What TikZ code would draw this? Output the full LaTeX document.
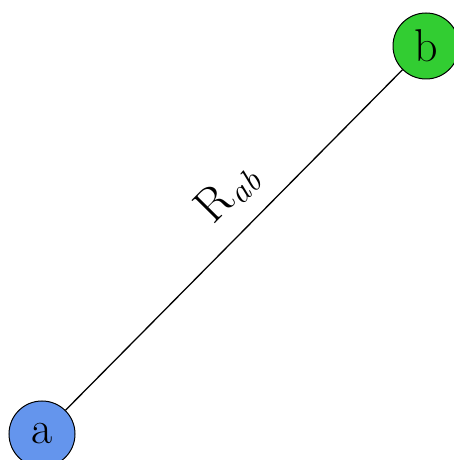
\documentclass[tikz,border=0pt]{standalone}
\usepackage{fontspec}
\definecolor{nodeblue}{RGB}{100,149,237}
\definecolor{nodegreen}{RGB}{50,205,50}
\newcommand{\subbig}[1]{\raisebox{-7pt}{\fontsize{34}{40}\selectfont\itshape #1}}
\begin{document}
\begin{tikzpicture}[x=1pt,y=1pt]
\useasboundingbox (0,0) rectangle (454,460);
\tikzset{
  vertex/.style={circle, draw, line width=1pt, minimum size=66pt, inner sep=0pt, font=\fontsize{46}{52}\selectfont},
  edgelabel/.style={font=\fontsize{48}{54}\selectfont, sloped, above=15pt, inner sep=2pt}
}
\node[vertex, fill=nodeblue] (a) at (42,26) {a};
\node[vertex, fill=nodegreen] (b) at (426,414) {b};
\draw[line width=1.3pt] (a) -- node[edgelabel, pos=0.56] {R\subbig{ab}} (b);
\end{tikzpicture}
\end{document}
